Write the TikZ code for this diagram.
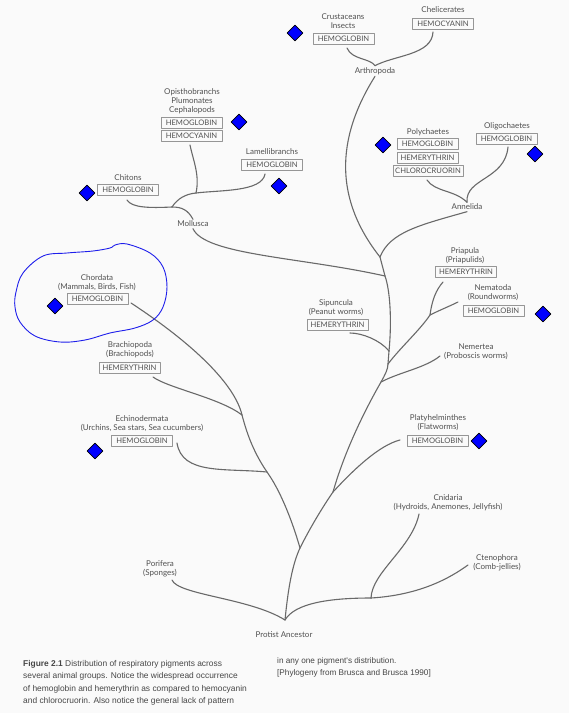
\documentclass[tikz,border=0pt]{standalone}
\usepackage{fontspec}
\setmainfont{Lato}
\newfontfamily\capfont{Liberation Sans}
\usepackage{xcolor}
\usetikzlibrary{shapes.geometric}

\definecolor{paper}{RGB}{250,250,250}
\definecolor{labelink}{RGB}{80,80,80}
\definecolor{branchink}{RGB}{105,105,105}
\definecolor{boxline}{RGB}{150,150,150}
\definecolor{penblue}{RGB}{30,30,235}
\definecolor{capink}{RGB}{70,70,70}

\tikzset{
  taxon/.style={align=center,text=labelink,font=\fontsize{8}{9}\selectfont,inner sep=1.5pt},
  pigment/.style={draw=boxline,line width=0.5pt,text=labelink,font=\fontsize{7.6}{9}\selectfont,inner xsep=2pt,inner ysep=1pt,minimum width=61pt,minimum height=11pt},
  branch/.style={draw=branchink,line width=1.1pt},
  marker/.style={diamond,draw=black,fill=blue,line width=0.6pt,minimum size=16pt,inner sep=0pt},
  pen/.style={draw=penblue,line width=0.9pt},
}

\begin{document}
\begin{tikzpicture}[line cap=round,line join=round,x=1pt,y=-1pt]
                \useasboundingbox[fill=paper] (0,0) rectangle (569,713);
                % taxa and pigments
                \node[taxon] (crust) at (343,21.5) {Crustaceans\\Insects};
                \node[pigment] (crustpig) at (343.5,39) {HEMOGLOBIN};
                \node[taxon] (chel) at (443,10) {Chelicerates};
                \node[pigment] (chelpig) at (443,24) {HEMOCYANIN};
                \node[taxon] (arthropoda) at (375,71) {Arthropoda};
                \node[taxon] (opis) at (192,101) {Opisthobranchs\\Plumonates\\Cephalopods};
                \node[pigment] (opispigA) at (191.5,123) {HEMOGLOBIN};
                \node[pigment] (opispigB) at (191.5,136) {HEMOCYANIN};
                \node[taxon] (lamel) at (272,152) {Lamellibranchs};
                \node[pigment] (lamelpig) at (272,165) {HEMOGLOBIN};
                \node[taxon] (chiton) at (128,178) {Chitons};
                \node[pigment] (chitonpig) at (128,190) {HEMOGLOBIN};
                \node[taxon] (mollusca) at (193,224) {Mollusca};
                \node[taxon] (poly) at (428,132) {Polychaetes};
                \node[pigment] (polypigA) at (427.5,144) {HEMOGLOBIN};
                \node[pigment] (polypigB) at (427.5,157.5) {HEMERYTHRIN};
                \node[pigment] (polypigC) at (428,171) {CHLOROCRUORIN};
                \node[taxon] (oligo) at (507,126) {Oligochaetes};
                \node[pigment] (oligopig) at (506.5,139) {HEMOGLOBIN};
                \node[taxon] (annelida) at (467,207) {Annelida};
                \node[taxon] (pria) at (465,255.5) {Priapula\\(Priapulids)};
                \node[pigment] (priapig) at (466,272) {HEMERYTHRIN};
                \node[taxon] (nema) at (493,292.5) {Nematoda\\(Roundworms)};
                \node[pigment] (nemapig) at (493.5,311) {HEMOGLOBIN};
                \node[taxon] (sipun) at (336,307.5) {Sipuncula\\(Peanut worms)};
                \node[pigment] (sipunpig) at (337.5,325) {HEMERYTHRIN};
                \node[taxon] (nemer) at (476,351.5) {Nemertea\\(Proboscis worms)};
                \node[taxon] (chord) at (97,282.5) {Chordata\\(Mammals, Birds, Fish)};
                \node[pigment] (chordpig) at (97.5,299) {HEMOGLOBIN};
                \node[taxon] (brach) at (130,350) {Brachiopoda\\(Brachiopods)};
                \node[pigment] (brachpig) at (129.5,368) {HEMERYTHRIN};
                \node[taxon] (echin) at (142,423.5) {Echinodermata\\(Urchins, Sea stars, Sea cucumbers)};
                \node[pigment] (echinpig) at (142,441) {HEMOGLOBIN};
                \node[taxon] (platy) at (438,422.5) {Platyhelminthes\\(Flatworms)};
                \node[pigment] (platypig) at (437.5,441) {HEMOGLOBIN};
                \node[taxon] (cnid) at (448,502.5) {Cnidaria\\(Hydroids, Anemones, Jellyfish)};
                \node[taxon] (cteno) at (497,562.5) {Ctenophora\\(Comb-jellies)};
                \node[taxon] (porif) at (160,569) {Porifera\\(Sponges)};
                \node[taxon] (ancestor) at (284,635) {Protist Ancestor};
                % branch points and free ends
                \coordinate (root) at (285,620);
                \coordinate (bil) at (300,548);
                \coordinate (echJ) at (267,472);
                \coordinate (braJ) at (242,415);
                \coordinate (plaJ) at (333,492);
                \coordinate (nemJ) at (381,382);
                \coordinate (priJ) at (388,364);
                \coordinate (sipJ) at (389,351);
                \coordinate (molJ) at (385,276);
                \coordinate (annJ) at (380,257);
                \coordinate (cniJ) at (371,598);
                \coordinate (nemaJ) at (430,315);
                \coordinate (chitJ) at (172,207);
                \coordinate (opJ) at (196,193);
                \coordinate (porEnd) at (172,580);
                \coordinate (ctenoEnd) at (468,565);
                \coordinate (cniEnd) at (419,514);
                \coordinate (chordEnd) at (131,303);
                \coordinate (echEnd) at (177,443);
                \coordinate (braEnd) at (153,377);
                \coordinate (plaEnd) at (400,440);
                \coordinate (nemEnd) at (440,356);
                \coordinate (priEnd) at (443,282);
                \coordinate (nemaEnd) at (458,302);
                \coordinate (sipEnd) at (350,333);
                \coordinate (crustEnd) at (347,48);
                \coordinate (chelEnd) at (433,32);
                \coordinate (polyEnd) at (427,180);
                \coordinate (oligoEnd) at (508,147);
                \coordinate (chitEnd) at (127,200);
                \coordinate (lamEnd) at (265,174);
                \coordinate (opEnd) at (190,145);
                % the tree
                \draw[branch] (porEnd) .. controls (178,595) and (250,598) .. (root);
                \draw[branch] (root) .. controls (288,590) and (292,565) .. (bil);
                \draw[branch] (root) .. controls (295,603) and (330,598) .. (cniJ);
                \draw[branch] (cniJ) .. controls (420,595) and (450,578) .. (ctenoEnd);
                \draw[branch] (cniJ) .. controls (372,572) and (412,548) .. (cniEnd);
                \draw[branch] (bil) .. controls (292,520) and (280,490) .. (echJ);
                \draw[branch] (echJ) .. controls (252,450) and (246,430) .. (braJ);
                \draw[branch] (braJ) .. controls (235,385) and (195,345) .. (chordEnd);
                \draw[branch] (echJ) .. controls (225,468) and (182,475) .. (echEnd);
                \draw[branch] (braJ) .. controls (220,398) and (168,388) .. (braEnd);
                \draw[branch] (bil) .. controls (310,528) and (322,508) .. (plaJ);
                \draw[branch] (plaJ) .. controls (355,468) and (380,445) .. (plaEnd);
                \draw[branch] (plaJ) .. controls (345,450) and (365,410) .. (nemJ);
                \draw[branch] (nemJ) .. controls (400,372) and (425,368) .. (nemEnd);
                \draw[branch] (nemJ) .. controls (385,375) and (388,369) .. (priJ);
                \draw[branch] (priJ) -- (sipJ);
                \draw[branch] (priJ) .. controls (400,348) and (420,330) .. (nemaJ);
                \draw[branch] (nemaJ) .. controls (432,300) and (436,290) .. (priEnd);
                \draw[branch] (nemaJ) .. controls (440,310) and (450,306) .. (nemaEnd);
                \draw[branch] (sipJ) .. controls (380,340) and (362,333) .. (sipEnd);
                \draw[branch] (sipJ) .. controls (392,320) and (390,290) .. (molJ);
                \draw[branch] (molJ) -- (annJ);
                \draw[branch] (mollusca.south) .. controls (205,255) and (300,257) .. (molJ);
                \draw[branch] (annJ) .. controls (390,232) and (420,225) .. (annelida.south);
                \draw[branch] (annJ) .. controls (335,200) and (335,140) .. (arthropoda.south);
                \draw[branch] (crustEnd) .. controls (352,60) and (370,58) .. (arthropoda.north);
                \draw[branch] (chelEnd) .. controls (432,55) and (395,55) .. (arthropoda.north);
                \draw[branch] (polyEnd) .. controls (435,192) and (455,190) .. (annelida.north);
                \draw[branch] (oligoEnd) .. controls (505,180) and (465,178) .. (annelida.north);
                \draw[branch] (chitEnd) .. controls (132,208) and (150,208) .. (chitJ);
                \draw[branch] (chitJ) .. controls (182,207) and (188,210) .. (mollusca.north);
                \draw[branch] (chitJ) .. controls (178,198) and (186,194) .. (opJ);
                \draw[branch] (opJ) .. controls (220,190) and (262,192) .. (lamEnd);
                \draw[branch] (opJ) .. controls (200,175) and (193,160) .. (opEnd);
                % hemoglobin marks
                \node[marker] (markCrust) at (295,33) {};
                \node[marker] (markOpis) at (239,122) {};
                \node[marker] (markLamel) at (279,186) {};
                \node[marker] (markChiton) at (87,193) {};
                \node[marker] (markPoly) at (383,145) {};
                \node[marker] (markOligo) at (535,154) {};
                \node[marker] (markChord) at (55,306) {};
                \node[marker] (markNema) at (543,314) {};
                \node[marker] (markEchin) at (95,451) {};
                \node[marker] (markPlaty) at (479,441) {};
                % hand drawn loop
                \draw[pen] plot[smooth cycle,tension=0.6] coordinates {(16,292) (23,273) (43,256) (67,253) (93,251) (110,248) (115,245) (127,244) (150,253) (163,267) (167,287) (163,307) (153,320) (135,328) (110,333) (85,340) (60,342) (35,336) (20,322) (15,307)};
                % caption
                \node[anchor=north west,align=left,inner sep=0pt,text=capink,font=\capfont\fontsize{8.4}{12.5}\selectfont] (capleft) at (23,660) {\textbf{Figure 2.1} Distribution of respiratory pigments across\\several animal groups. Notice the widespread occurrence\\of hemoglobin and hemerythrin as compared to hemocyanin\\and chlorocruorin. Also notice the general lack of pattern};
                \node[anchor=north west,align=left,inner sep=0pt,text=capink,font=\capfont\fontsize{8.2}{12.5}\selectfont] (capright) at (277,657) {in any one pigment's distribution.\\{[}Phylogeny from Brusca and Brusca 1990{]}};
\end{tikzpicture}
\end{document}
